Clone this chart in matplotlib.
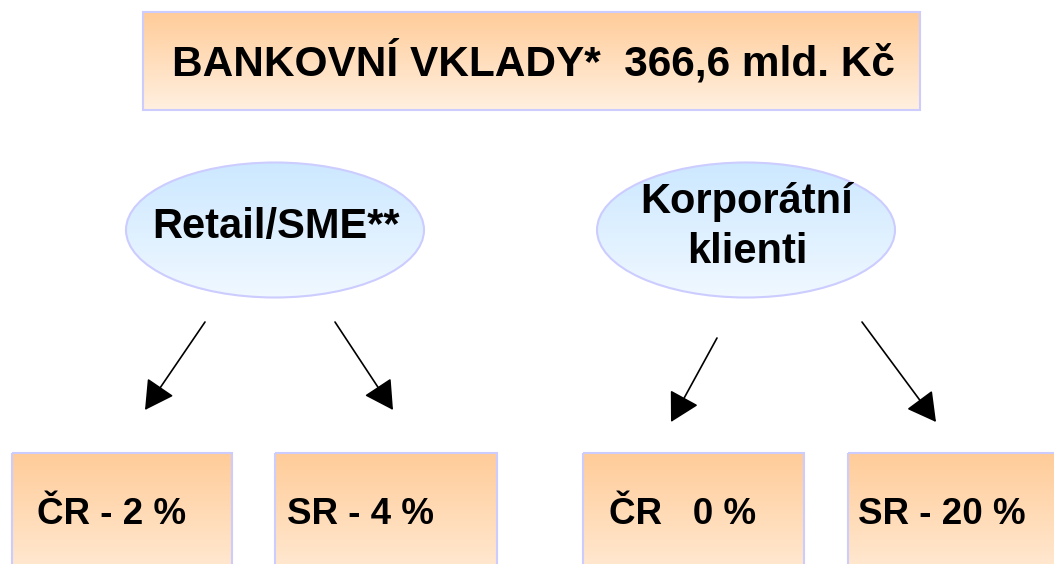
import numpy as np
import matplotlib.pyplot as plt
from matplotlib.patches import Rectangle, Ellipse

# texts of the diagram
title_text = "BANKOVNÍ VKLADY*  366,6 mld. Kč"
group_labels = ["Retail/SME**", "Korporátní\nklienti"]
leaf_labels = ["ČR - 2 %", "SR - 4 %", "ČR   0 %", "SR - 20 %"]

W, H = 1054, 564
fig = plt.figure(figsize=(W / 100, H / 100), dpi=100)
ax = fig.add_axes([0, 0, 1, 1])
ax.set_xlim(0, W)
ax.set_ylim(H, 0)
ax.axis("off")

plt.rcParams['font.family'] = ['Liberation Sans', 'DejaVu Sans']

border = "#ccccff"
peach_top = np.array([255, 204, 153]) / 255
peach_bot = np.array([255, 240, 224]) / 255
blue_top = np.array([204, 232, 255]) / 255
blue_bot = np.array([240, 248, 255]) / 255


def gradient(patch, x0, x1, y0, y1, c_top, c_bot):
    ax.add_patch(patch)
    t = np.linspace(0, 1, 256)[:, None]
    img = c_top[None, None, :] * (1 - t[..., None]) + c_bot[None, None, :] * t[..., None]
    im = ax.imshow(img, extent=[x0, x1, y1, y0], aspect="auto", zorder=1,
                   interpolation="bilinear")
    im.set_clip_path(patch)


def box(x0, y0, x1, y1):
    r = Rectangle((x0, y0), x1 - x0, y1 - y0, facecolor="none",
                  edgecolor=border, linewidth=1.5, zorder=2)
    gradient(Rectangle((x0, y0), x1 - x0, y1 - y0, facecolor="none",
                       edgecolor="none"), x0, x1, y0, y1, peach_top, peach_bot)
    ax.add_patch(r)


# top box
box(143, 12, 920, 110)
ax.text(533, 62, title_text, ha="center", va="center", fontsize=30.5,
        fontweight="bold", zorder=3)

# ellipses
ell_centers = [(275, 230), (746, 230)]
ew, eh = 298, 135
for (cx, cy), lab in zip(ell_centers, group_labels):
    gradient(Ellipse((cx, cy), ew, eh, facecolor="none", edgecolor="none"),
             cx - ew / 2, cx + ew / 2, cy - eh / 2, cy + eh / 2, blue_top, blue_bot)
    ax.add_patch(Ellipse((cx, cy), ew, eh, facecolor="none", edgecolor=border,
                         linewidth=1.5, zorder=2))
    ax.text(cx + 1, cy - 3, lab, ha="center", va="center", fontsize=30,
            fontweight="bold", zorder=3, linespacing=1.3)

# arrows
arrows = [((205, 322), (145, 410)), ((335, 322), (393, 410)),
          ((717, 338), (671, 422)), ((862, 322), (936, 422))]
for (sx, sy), (tx, ty) in arrows:
    ax.annotate("", xy=(tx, ty), xytext=(sx, sy),
                arrowprops=dict(arrowstyle="-|>,head_length=0.45,head_width=0.25",
                                color="black", lw=1.2,
                                mutation_scale=40, shrinkA=0, shrinkB=0),
                zorder=3)

# bottom boxes
leaf_x = [(12, 232), (275, 497), (583, 804), (848, 1070)]
leaf_text_x = [37, 287, 609, 858]
for (x0, x1), tx, lab in zip(leaf_x, leaf_text_x, leaf_labels):
    box(x0, 453, x1, 600)
    ax.text(tx, 514, lab, ha="left", va="center", fontsize=26.5,
            fontweight="bold", zorder=3)

fig.savefig("out.png", dpi=100)
